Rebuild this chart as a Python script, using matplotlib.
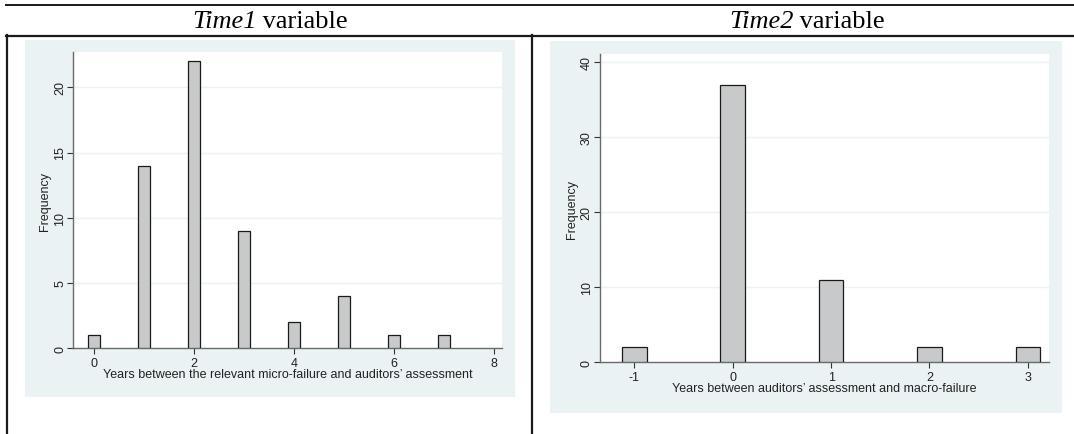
import numpy as np
import matplotlib
matplotlib.use("Agg")
from matplotlib import pyplot as plt
from matplotlib.patches import Rectangle
from matplotlib.lines import Line2D

# Time1: years between micro-failure and auditors' assessment
time1_years = [0, 1, 2, 3, 4, 5, 6, 7]
time1_freq = [1, 14, 22, 9, 2, 4, 1, 1]
time1_yticks = [0, 5, 10, 15, 20]
time1_xticks = [0, 2, 4, 6, 8]

# Time2: years between auditors' assessment and macro-failure
time2_years = [-1, 0, 1, 2, 3]
time2_freq = [2, 37, 11, 2, 2]
time2_yticks = [0, 10, 20, 30, 40]
time2_xticks = [-1, 0, 1, 2, 3]

W, H = 1074, 435
BG = "#EAF2F3"
BAR = "#C8C9CA"

plt.rcParams['font.family'] = ['Liberation Sans', 'DejaVu Sans']
plt.rcParams['axes.unicode_minus'] = False

fig = plt.figure(figsize=(W/100, H/100), dpi=100)


def px_rect(x0, y0, x1, y1):
    # pixel box (top-left origin) -> figure fraction [l, b, w, h]
    return [x0/W, 1-y1/H, (x1-x0)/W, (y1-y0)/H]


def hline(y, x0, x1, lw):
    fig.add_artist(Line2D([x0/W, x1/W], [1-y/H, 1-y/H], color="#1a1a1a", lw=lw))


def vline(x, y0, y1, lw):
    fig.add_artist(Line2D([x/W, x/W], [1-y0/H, 1-y1/H], color="#1a1a1a", lw=lw))


# table rules
hline(5.5, 6, W, 1.4)
hline(37, 6, W, 1.6)
vline(7, 36, H, 1.6)
vline(532, 36, H, 1.6)

# graph region backgrounds
for box in [(25, 40.7, 515, 397.7), (550, 41.7, 1061.7, 414.3)]:
    l, b, w, h = px_rect(*box)
    fig.add_artist(Rectangle((l, b), w, h, transform=fig.transFigure,
                             facecolor=BG, edgecolor="none", zorder=0))


def stata_hist(ax, years, freq, xticks, yticks, xlabel, xlim, ylim):
    ax.set_facecolor("white")
    ax.bar(years, freq, width=0.25, color=BAR, edgecolor="#1a1a1a", linewidth=0.9, zorder=3)
    ax.set_xlim(*xlim)
    ax.set_ylim(*ylim)
    ax.set_xticks(xticks)
    ax.set_yticks(yticks)
    ax.set_yticklabels([str(t) for t in yticks], rotation=90, va="center")
    for t in yticks[1:]:
        ax.axhline(t, color=BG, lw=1.0, zorder=1)
    for s in ["top", "right"]:
        ax.spines[s].set_visible(False)
    for s in ["left", "bottom"]:
        ax.spines[s].set_color("#6a6a6a")
        ax.spines[s].set_linewidth(1.0)
    ax.tick_params(length=4, width=0.8, color="#333333", labelsize=9, pad=2.5,
                   labelcolor="#222222")
    ax.tick_params(axis="y", pad=1.2)
    ax.set_xlabel(xlabel, fontsize=9, labelpad=-1, color="#222222")
    ax.set_ylabel("Frequency", fontsize=9, labelpad=2, color="#222222")


ax1 = fig.add_axes(px_rect(73.3, 53.3, 502, 349.3))
stata_hist(ax1, time1_years, time1_freq, time1_xticks, time1_yticks,
           "Years between the relevant micro-failure and auditors’ assessment",
           (-0.41, 8.16), (0, 22.68))

ax2 = fig.add_axes(px_rect(600, 55, 1048.5, 363.3))
stata_hist(ax2, time2_years, time2_freq, time2_xticks, time2_yticks,
           "Years between auditors’ assessment and macro-failure",
           (-1.35, 3.21), (0, 41.1))

# column headers: italic variable name + plain word, centred together
renderer = fig.canvas.get_renderer()
for name, cx in [("Time1", 270), ("Time2", 807)]:
    a = fig.text(0, 1-21.5/H, name, family="Liberation Serif", style="italic",
                 fontsize=19, va="center", ha="left")
    b = fig.text(0, 1-21.5/H, " variable", family="Liberation Serif",
                 fontsize=19, va="center", ha="left")
    wa = a.get_window_extent(renderer).width
    wb = b.get_window_extent(renderer).width
    x0 = cx - (wa + wb)/2
    a.set_x(x0/W)
    b.set_x((x0 + wa)/W)

fig.savefig("out.png", dpi=100)
